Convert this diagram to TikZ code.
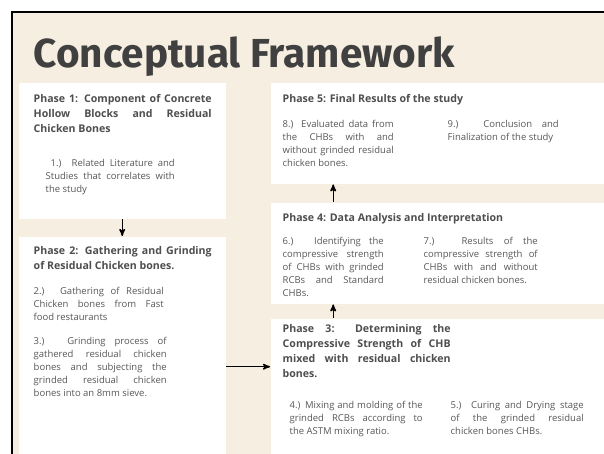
\documentclass[tikz,border=0pt]{standalone}
\usepackage{fontspec}
\setmainfont{Open Sans}
\newfontfamily\titlefont{Fira Sans}
\usepackage{tikz}
\usetikzlibrary{arrows, positioning}
\usepackage{xcolor}

\definecolor{paper}{RGB}{246,238,224}
\definecolor{titlegray}{RGB}{64,64,64}
\definecolor{headgray}{RGB}{78,78,78}
\definecolor{bodygray}{RGB}{88,88,88}
\hyphenpenalty=10000
\tolerance=10000

\begin{document}
\begin{tikzpicture}[x=1pt,y=-1pt,>=stealth',line width=1.4pt]
  \tikzstyle{box}=[fill=white,draw=none,anchor=north west,inner sep=0pt]
  \tikzstyle{head}=[inner sep=0pt,align=justify,text=headgray,
    font=\bfseries\fontsize{10.6}{15}\selectfont]
  \tikzstyle{body}=[inner sep=0pt,align=justify,text=bodygray,
    font=\fontsize{9.5}{13}\selectfont]

  \useasboundingbox (0,0) rectangle (604,454);
  \fill[paper] (12,12) rectangle (604,454);
  \draw[line width=2pt] (12,454) -- (12,12) -- (604,12);

  \node[anchor=base west,inner sep=0pt,text=titlegray,
    font=\titlefont\bfseries\fontsize{40.5}{42}\selectfont] (title) at (33,68)
    {Conceptual Framework};

  % the five phases
  \node[box,minimum width=207pt,minimum height=136pt] (p1) at (18,82)  {};
  \node[box,minimum width=207pt,minimum height=218pt] (p2) at (18,236) {};
  \node[box,minimum width=334pt,minimum height=101pt] (p5) at (270,82)  {};
  \node[box,minimum width=334pt,minimum height=101pt] (p4) at (270,202) {};
  \node[box,minimum width=334pt,minimum height=136pt] (p3) at (270,318) {};

  % phase 1
  \node[head,text width=178pt] (p1h) [below right=12pt and 15pt of p1.north west]
    {Phase 1: Component of Concrete\linebreak Hollow Blocks and Residual\linebreak Chicken Bones};
  \node[body,text width=129pt] (p1a) [below right=76.5pt and 27pt of p1.north west]
    {\hspace*{5pt}1.) Related Literature and\linebreak Studies that correlates with\linebreak the study};

  % phase 2
  \node[head,text width=178pt] (p2h) [below right=10pt and 15pt of p2.north west]
    {Phase 2: Gathering and Grinding\linebreak of Residual Chicken bones.};
  \node[body,text width=130pt] (p2a) [below right=50.5pt and 15pt of p2.north west]
    {2.) Gathering of Residual\linebreak Chicken bones from Fast\linebreak food restaurants};
  \node[body,text width=133pt] (p2b) [below right=100.5pt and 15pt of p2.north west]
    {3.) Grinding process of\linebreak gathered residual chicken\linebreak bones and subjecting the\linebreak grinded residual chicken\linebreak bones into an 8mm sieve.};

  % phase 5
  \node[head,text width=250pt] (p5h) [below right=12pt and 12pt of p5.north west]
    {Phase 5: Final Results of the study};
  \node[body,text width=111pt] (p5a) [below right=37.5pt and 12pt of p5.north west]
    {8.) Evaluated data from\linebreak the CHBs with and\linebreak without grinded residual\linebreak chicken bones.};
  \node[body,text width=111pt] (p5b) [below right=37.5pt and 177pt of p5.north west]
    {9.) Conclusion and\linebreak Finalization of the study};

  % phase 4
  \node[head,text width=250pt] (p4h) [below right=11pt and 12pt of p4.north west]
    {Phase 4: Data Analysis and Interpretation};
  \node[body,text width=101pt] (p4a) [below right=34.5pt and 12pt of p4.north west]
    {6.) Identifying the\linebreak compressive strength\linebreak of CHBs with grinded\linebreak RCBs and Standard\linebreak CHBs.};
  \node[body,text width=114pt] (p4b) [below right=34.5pt and 153pt of p4.north west]
    {7.) Results of the\linebreak compressive strength of\linebreak CHBs with and without\linebreak residual chicken bones.};

  % phase 3
  \node[head,text width=168pt] (p3h) [below right=6pt and 12pt of p3.north west]
    {Phase 3: Determining the\linebreak Compressive Strength of CHB\linebreak mixed with residual chicken\linebreak bones.};
  \node[body,text width=133pt] (p3a) [below right=82.5pt and 19pt of p3.north west]
    {4.) Mixing and molding of the\linebreak grinded RCBs according to\linebreak the ASTM mixing ratio.};
  \node[body,text width=133pt] (p3b) [below right=82.5pt and 180pt of p3.north west]
    {5.) Curing and Drying stage\linebreak of the grinded residual\linebreak chicken bones CHBs.};

  \path[->]
  (p1) edge (p2)
  ([yshift=-21pt]p2.east) edge ([yshift=-21pt]p2.east -| p3.west)
  (p3.north -| p4a) edge (p4.south -| p4a)
  (p4.north -| p4a) edge (p5.south -| p4a)
  ;
\end{tikzpicture}
\end{document}
